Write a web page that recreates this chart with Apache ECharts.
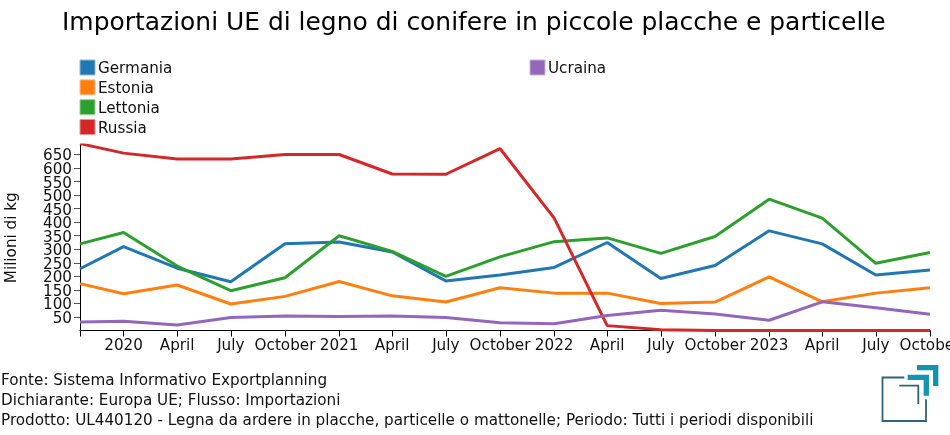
<!DOCTYPE html>
<html><head><meta charset="utf-8">
<style>html,body{margin:0;padding:0;background:#fff;overflow:hidden}#c{width:950px;height:435px}</style>
<script src="https://cdn.jsdelivr.net/npm/echarts@6/dist/echarts.min.js"></script>
</head><body><div id="c"></div>
<script>
const dates = ['2019-10-19','2020-01-01','2020-04-01','2020-07-01','2020-10-01','2021-01-01','2021-04-01','2021-07-01','2021-10-01','2022-01-01','2022-04-01','2022-07-01','2022-10-01','2023-01-01','2023-04-01','2023-07-01','2023-10-01'];
const tickLabels = ['', '2020','April','July','October','2021','April','July','October','2022','April','July','October','2023','April','July','October'];
const germania = [228,310,230,180,320,327,290,183,205,233,325,192,240,368,320,205,223];
const estonia = [173,136,168,98,126,181,128,105,158,138,138,100,105,198,106,138,158];
const lettonia = [320,362,238,147,195,350,292,200,272,328,342,285,347,485,415,248,288];
const russia = [690,655,633,633,650,650,578,577,672,415,18,3,0,0,0,0,0];
const ucraina = [31,34,20,48,54,52,54,48,29,25,55,75,61,38,106,84,60];
const names = ['Germania','Estonia','Lettonia','Russia','Ucraina'];
const colors = ['#1f77b4','#ff7f0e','#2ca02c','#d62728','#9467bd'];
const lighter = ['#8fbbd9','#ffbf87','#96d096','#eb9394','#cab3de'];
const values = [germania,estonia,lettonia,russia,ucraina];
const yMax = 685;
const footer = ['Fonte: Sistema Informativo Exportplanning','Dichiarante: Europa UE; Flusso: Importazioni','Prodotto: UL440120 - Legna da ardere in placche, particelle o mattonelle; Periodo: Tutti i periodi disponibili'];
const font = 'DejaVu Sans';
const ts = dates.map(d => Date.parse(d + 'T00:00:00Z'));
const labelMap = {}; ts.forEach((t,i)=>labelMap[t]=tickLabels[i]);
const legendItem = i => ({name:names[i], itemStyle:{color:colors[i],borderColor:lighter[i],borderWidth:1}});
const textRich = {a:{fontFamily:font,fontSize:15.2,color:'#111',padding:[4,0,0,0]}};
const legendBase = {orient:'vertical',icon:'rect',itemWidth:15,itemHeight:15,itemGap:2.33,padding:0,selectedMode:false,
  formatter:'{a|{name}}',
  textStyle:{fontFamily:font,fontSize:15.2,color:'#111',padding:[0,0,0,-2],rich:textRich}};
const chart = echarts.init(document.getElementById('c'),null,{renderer:'canvas'});
chart.setOption({
  animation:false,
  backgroundColor:'#fff',
  title:[
    {text:'Importazioni UE di legno di conifere in piccole placche e particelle',left:62,top:11,padding:0,textStyle:{fontFamily:font,fontSize:24.95,fontWeight:'normal',color:'#000'}},
    ...footer.map((t,i)=>({text:t,left:1,top:374+i*20,padding:0,textStyle:{fontFamily:font,fontSize:15.2,fontWeight:'normal',color:'#111'}}))
  ],
  legend:[
    {...legendBase,left:79.5,top:59.5,data:[0,1,2,3].map(legendItem)},
    {...legendBase,left:529.5,top:59.5,data:[legendItem(4)]}
  ],
  grid:{left:80,right:20,top:145,bottom:104.5,outerBoundsMode:'none'},
  xAxis:{type:'value',min:ts[0],max:ts[ts.length-1],
    axisLine:{show:true,onZero:false,lineStyle:{color:'#000',width:1}},
    axisTick:{show:true,length:6,customValues:ts,lineStyle:{color:'#000',width:1}},
    axisLabel:{show:true,customValues:ts.slice(1),margin:8,hideOverlap:false,showMinLabel:true,showMaxLabel:true,
      fontFamily:font,fontSize:15.2,color:'#111',formatter:v=>labelMap[v]||''},
    splitLine:{show:false}},
  yAxis:{type:'value',min:0,max:yMax,interval:50,name:'Milioni di kg',nameLocation:'middle',nameGap:60,
    nameTextStyle:{fontFamily:font,fontSize:15.2,color:'#111'},
    axisLine:{show:true,onZero:false,lineStyle:{color:'#000',width:1}},
    axisTick:{show:true,length:6,lineStyle:{color:'#555',width:1}},
    axisLabel:{showMinLabel:false,showMaxLabel:false,margin:8,fontFamily:font,fontSize:15.2,color:'#111',formatter:'{a|{value}}',rich:textRich},
    splitLine:{show:false}},
  series:names.map((n,i)=>({name:n,type:'line',data:ts.map((t,k)=>[t,values[i][k]]),symbol:'none',smooth:false,
    lineStyle:{color:colors[i],width:3},itemStyle:{color:colors[i]},z:2+i})),
  graphic:[
    {type:'polyline',shape:{points:[[904.3,377.5],[882.5,377.5],[882.5,421],[926,421],[926,399.3]]},style:{fill:null,stroke:'#2f6478',lineWidth:1.8}},
    {type:'polyline',shape:{points:[[899.3,385.7],[918.3,385.7],[918.3,404]]},style:{fill:null,stroke:'#2f6478',lineWidth:1.8}},
    {type:'polyline',shape:{points:[[907.7,377.3],[926.3,377.3],[926.3,395.7]]},style:{fill:null,stroke:'#1194b0',lineWidth:5.3}},
    {type:'polyline',shape:{points:[[917,367.7],[935.7,367.7],[935.7,386]]},style:{fill:null,stroke:'#1194b0',lineWidth:5.3}}
  ]
});
</script></body></html>
